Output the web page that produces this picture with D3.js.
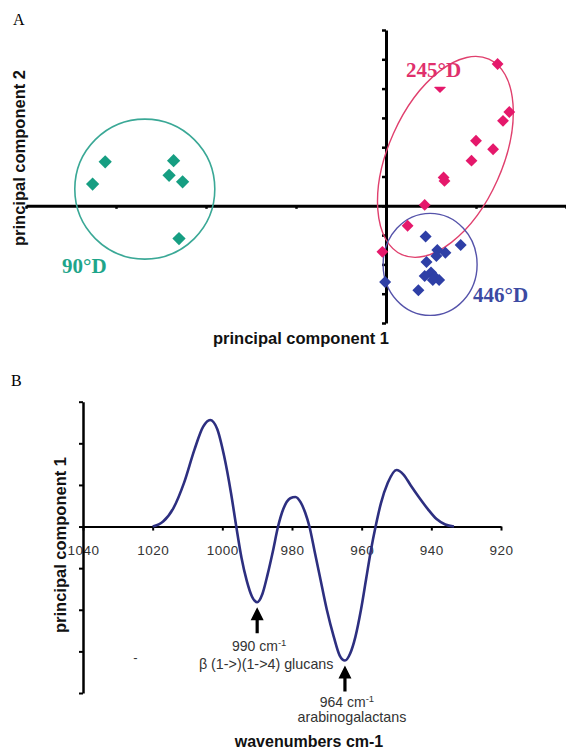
<!DOCTYPE html>
<html><head><meta charset="utf-8">
<script src="https://cdn.jsdelivr.net/npm/d3@7/dist/d3.min.js"></script>
<style>body{margin:0;background:#fff}svg{display:block}</style>
</head><body>
<svg id="c" width="566" height="751"></svg>
<script>
// ---------- Panel A data (PCA scores) ----------
const pcaXTicks = [-4,-3,-2,-1,0,1,2];
const pcaYTicks = [-4,-3,-2,-1,0,1,2,3,4,5,6];
const green90 = [[-3.12,1.50],[-3.26,0.74],[-2.36,1.54],[-2.41,1.04],[-2.26,0.82],[-2.30,-1.12]];
const pink245 = [[1.24,4.84],[1.37,3.20],[1.30,2.90],[1.00,2.22],[1.19,1.93],[0.95,1.54],
                 [0.64,0.97],[0.65,0.85],[0.43,0.03],[0.24,-0.68],[-0.04,-1.57]];
const pink245Hidden = [[0.60,4.05]];
const blue446 = [[0.44,-1.05],[0.83,-1.34],[0.57,-1.51],[0.66,-1.60],[0.56,-1.71],[0.45,-1.92],
                 [0.50,-2.28],[0.43,-2.40],[0.54,-2.42],[0.59,-2.53],[0.52,-2.53],[-0.01,-2.60],[0.36,-2.88]];
const groupLabels = ["90°D","245°D","446°D"];
const groupCenters = [[-2.68,0.57],[0.66,1.67],[0.49,-2.0]];

// ---------- Panel B data (loading spectrum) ----------
const wnTicks = [1040,1020,1000,980,960,940,920];
const pc1Ticks = [-4,-3,-2,-1,0,1,2,3];
const wavenumber = [1020,1017,1014,1011,1008,1005.5,1003.5,1001.5,999.5,997.5,996,994.5,993,991.5,990,988.5,987,985.5,984,982.5,980.5,979,977.5,976.2,975,973.5,972,970,968,966.3,964.8,963.3,961.8,960.2,958.7,957.3,956,954.5,952.5,950,948,946,943.5,941,938.5,936,933.5];
const loading   = [0,0.12,0.45,1.05,1.85,2.4,2.56,2.35,1.7,0.8,0,-0.75,-1.3,-1.68,-1.82,-1.62,-1.15,-0.6,0,0.42,0.68,0.71,0.58,0.33,0,-0.6,-1.2,-2.0,-2.65,-3.1,-3.22,-3.05,-2.65,-2.0,-1.25,-0.55,0,0.55,1.05,1.36,1.25,1.0,0.7,0.42,0.18,0.05,0];
const annWn = [990, 964.8];
const annLoad = [-1.82, -3.22];
const annLine1 = ["990 cm", "964 cm"];
const annLine2 = ["β (1->)(1->4) glucans", "arabinogalactans"];

const svg = d3.select("#c");
const SANS = "'Liberation Sans', Arial, sans-serif";
const SERIF = "'Liberation Serif', 'Times New Roman', serif";

// ================= Panel A =================
const xA = d3.scaleLinear().domain([-4,2]).range([26,566]);
const yA = d3.scaleLinear().domain([-4,6]).range([323,30]);

svg.append("text").attr("x",13).attr("y",25).attr("font-family",SERIF).attr("font-size",16).text("A");

const gxA = svg.append("g").attr("transform",`translate(0,${yA(0)})`)
  .call(d3.axisBottom(xA).tickValues(pcaXTicks).tickSize(3).tickSizeOuter(0).tickFormat(""));
gxA.select(".domain").attr("stroke","#000").attr("stroke-width",3);
gxA.selectAll(".tick line").attr("stroke","#000").attr("stroke-width",2.5);
const gyA = svg.append("g").attr("transform",`translate(${xA(0)},0)`)
  .call(d3.axisLeft(yA).tickValues(pcaYTicks).tickSize(4).tickSizeOuter(0).tickFormat(""));
gyA.select(".domain").attr("stroke","#000").attr("stroke-width",3);
gyA.selectAll(".tick line").attr("stroke","#000").attr("stroke-width",2.5);

const [gc,pc,bc] = groupCenters;
svg.append("ellipse").attr("cx",xA(gc[0])).attr("cy",yA(gc[1])).attr("rx",70).attr("ry",70)
  .attr("fill","none").attr("stroke","#3aa896").attr("stroke-width",1.6);
svg.append("ellipse").attr("cx",xA(pc[0])).attr("cy",yA(pc[1])).attr("rx",107).attr("ry",57)
  .attr("transform",`rotate(-66 ${xA(pc[0])} ${yA(pc[1])})`)
  .attr("fill","none").attr("stroke","#e0406e").attr("stroke-width",1.4);
svg.append("ellipse").attr("cx",xA(bc[0])).attr("cy",yA(bc[1])).attr("rx",47).attr("ry",51)
  .attr("fill","none").attr("stroke","#5553aa").attr("stroke-width",1.4);

function drawPts(arr, color, size){
  svg.append("g").selectAll("path").data(arr).join("path")
    .attr("d", d3.symbol().type(d3.symbolSquare).size(size))
    .attr("transform", d=>`translate(${xA(d[0])},${yA(d[1])}) rotate(45)`)
    .attr("fill", color);
}
drawPts(green90, "#169e82", 88);
drawPts(pink245, "#e5186b", 70);
drawPts(blue446, "#2e3fa6", 72);
svg.append("defs").append("clipPath").attr("id","halfclip").append("rect")
  .attr("x", xA(pink245Hidden[0][0])-10).attr("y", yA(pink245Hidden[0][1])-0.5).attr("width",20).attr("height",12);
svg.append("g").attr("clip-path","url(#halfclip)").selectAll("path").data(pink245Hidden).join("path")
  .attr("d", d3.symbol().type(d3.symbolSquare).size(70))
  .attr("transform", d=>`translate(${xA(d[0])},${yA(d[1])}) rotate(45)`)
  .attr("fill","#e5186b");

svg.append("text").attr("x",62).attr("y",273).attr("font-family",SERIF).attr("font-weight","bold")
  .attr("font-size",21).attr("fill","#1ea58a").text(groupLabels[0]);
svg.append("text").attr("x",406).attr("y",77).attr("font-family",SERIF).attr("font-weight","bold")
  .attr("font-size",21).attr("fill","#e0306c").text(groupLabels[1]);
svg.append("text").attr("x",473).attr("y",302).attr("font-family",SERIF).attr("font-weight","bold")
  .attr("font-size",21).attr("fill","#3c4aa2").text(groupLabels[2]);

svg.append("text").attr("transform","translate(25,158) rotate(-90)").attr("text-anchor","middle")
  .attr("font-family",SANS).attr("font-weight","bold").attr("font-size",16.5).attr("fill","#111")
  .text("principal component 2");
svg.append("text").attr("x",301).attr("y",344).attr("text-anchor","middle")
  .attr("font-family",SANS).attr("font-weight","bold").attr("font-size",16.5).attr("fill","#111")
  .text("principal component 1");

// ================= Panel B =================
svg.append("text").attr("x",11).attr("y",386).attr("font-family",SERIF).attr("font-size",16).text("B");

const xB = d3.scaleLinear().domain([1040,920]).range([83,501]);
const yB = d3.scaleLinear().domain([-4,3]).range([693,401.7]);

const gxB = svg.append("g").attr("transform",`translate(0,${yB(0)})`)
  .call(d3.axisBottom(xB).tickValues(wnTicks).tickSize(4).tickSizeOuter(0).tickFormat(d3.format("d")));
gxB.select(".domain").attr("stroke","#000").attr("stroke-width",2);
gxB.selectAll(".tick line").attr("stroke","#000").attr("stroke-width",2);
gxB.selectAll(".tick text").attr("y",19).attr("font-family",SANS).attr("font-size",13.5)
  .attr("letter-spacing",0.5).attr("fill","#333");

const gyB = svg.append("g").attr("transform",`translate(${xB(1040)},0)`)
  .call(d3.axisLeft(yB).tickValues(pc1Ticks).tickSize(4).tickSizeOuter(0).tickFormat(""));
gyB.select(".domain").attr("stroke","#000").attr("stroke-width",2.5);
gyB.selectAll(".tick line").attr("stroke","#000").attr("stroke-width",2);

const line = d3.line().x(d=>xB(d[0])).y(d=>yB(d[1])).curve(d3.curveMonotoneX);
svg.append("path").datum(wavenumber.map((w,i)=>[w,loading[i]]))
  .attr("d",line).attr("fill","none").attr("stroke","#2d2f80").attr("stroke-width",2.6);

annWn.forEach((w,i)=>{
  const ax = xB(w), ty = yB(annLoad[i]) + 5;
  svg.append("path")
    .attr("d",`M${ax},${ty} L${ax+6.5},${ty+13} L${ax+1.6},${ty+13} L${ax+1.6},${ty+26} L${ax-1.6},${ty+26} L${ax-1.6},${ty+13} L${ax-6.5},${ty+13} Z`)
    .attr("fill","#000");
  const t1 = svg.append("text").attr("x",ax+2).attr("y",ty + (i===0?44:41)).attr("text-anchor","middle")
    .attr("font-family",SANS).attr("font-size",14).attr("fill","#333");
  t1.append("tspan").text(annLine1[i]);
  t1.append("tspan").attr("dy",-5).attr("font-size",9.5).text("-1");
  svg.append("text").attr("x",ax+(i===0?9:7)).attr("y",ty + (i===0?61.5:56.5)).attr("text-anchor","middle")
    .attr("font-family",SANS).attr("font-size",14.3).attr("fill","#333").text(annLine2[i]);
});

svg.append("text").attr("x",135.5).attr("y",662).attr("text-anchor","middle")
  .attr("font-family",SANS).attr("font-size",13).attr("fill","#333").text("-");

svg.append("text").attr("transform","translate(66,545) rotate(-90)").attr("text-anchor","middle")
  .attr("font-family",SANS).attr("font-weight","bold").attr("font-size",16.5).attr("fill","#111")
  .text("principal component 1");
svg.append("text").attr("x",309).attr("y",747).attr("text-anchor","middle")
  .attr("font-family",SANS).attr("font-weight","bold").attr("font-size",16).attr("fill","#111")
  .text("wavenumbers cm-1");
</script>
</body></html>
